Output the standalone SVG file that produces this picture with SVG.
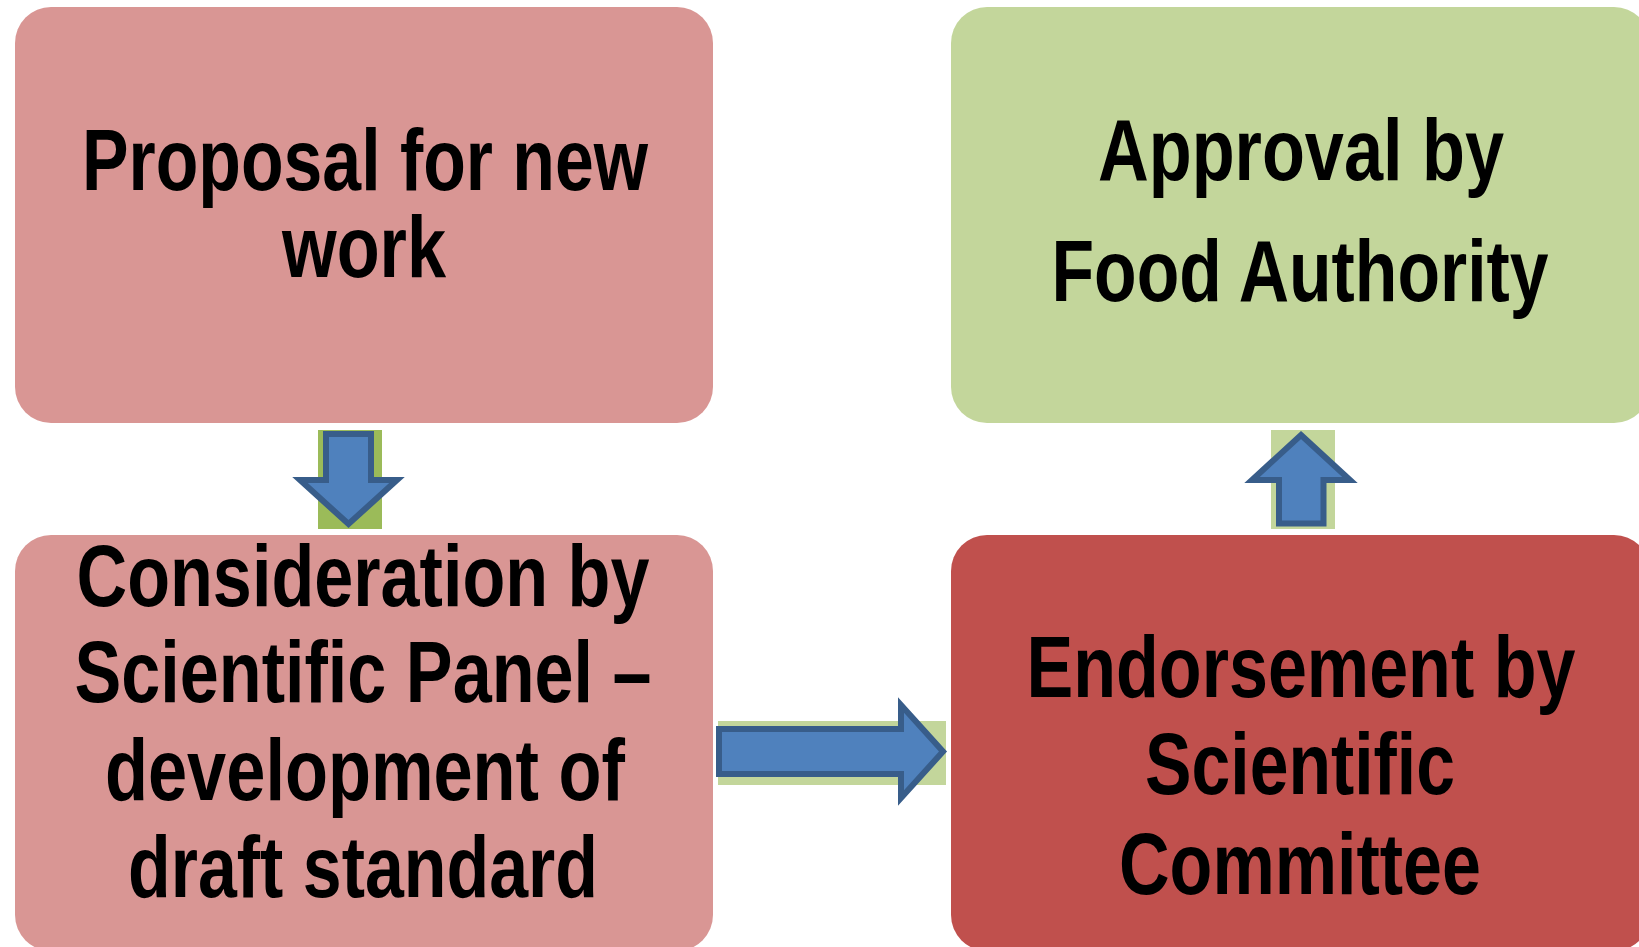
<svg xmlns="http://www.w3.org/2000/svg" width="1639" height="947" viewBox="0 0 1639 947">
<style>
.lbl{font-family:"Liberation Sans Narrow","Arial Narrow","Liberation Sans",sans-serif;font-weight:bold;font-size:88px;fill:#000;text-anchor:middle}
.arrow{fill:#4F81BD;stroke:#385D8A;stroke-width:6;stroke-linejoin:miter}
</style>
<rect width="1639" height="947" fill="#FFFFFF"/>
<g id="node-proposal">
<rect x="15" y="7" width="698" height="416" rx="36" fill="#D99694"/>
<text class="lbl" lengthAdjust="spacingAndGlyphs"><tspan x="365" y="190" textLength="566" lengthAdjust="spacingAndGlyphs">Proposal for new</tspan><tspan x="364" y="277" textLength="164" lengthAdjust="spacingAndGlyphs">work</tspan></text>
</g>
<g id="node-approval">
<rect x="951" y="7" width="699" height="416" rx="36" fill="#C3D69B"/>
<text class="lbl"><tspan x="1301" y="180" textLength="406" lengthAdjust="spacingAndGlyphs">Approval by</tspan><tspan x="1300" y="301" textLength="497" lengthAdjust="spacingAndGlyphs">Food Authority</tspan></text>
</g>
<g id="node-consideration">
<rect x="15" y="535" width="698" height="416" rx="36" fill="#D99694"/>
<text class="lbl"><tspan x="363" y="606" textLength="573" lengthAdjust="spacingAndGlyphs">Consideration by</tspan><tspan x="363" y="702" textLength="577" lengthAdjust="spacingAndGlyphs">Scientific Panel –</tspan><tspan x="365" y="800" textLength="520" lengthAdjust="spacingAndGlyphs">development of</tspan><tspan x="363" y="897" textLength="470" lengthAdjust="spacingAndGlyphs">draft standard</tspan></text>
</g>
<g id="node-endorsement">
<rect x="951" y="535" width="699" height="416" rx="36" fill="#C0504D"/>
<text class="lbl"><tspan x="1301" y="697" textLength="549" lengthAdjust="spacingAndGlyphs">Endorsement by</tspan><tspan x="1300" y="794" textLength="310" lengthAdjust="spacingAndGlyphs">Scientific</tspan><tspan x="1300" y="894" textLength="362" lengthAdjust="spacingAndGlyphs">Committee</tspan></text>
</g>
<g id="connectors">
<rect x="318" y="430" width="64" height="99" fill="#9BBB59"/>
<path class="arrow" d="M326,434 L371,434 L371,480 L397,480 L348.5,524 L300,480 L326,480 Z"/>
<rect x="1271" y="430" width="64" height="99" fill="#C3D69B"/>
<path class="arrow" d="M1301,435 L1350,480 L1323.5,480 L1323.5,523.5 L1279,523.5 L1279,480 L1252,480 Z"/>
<rect x="718" y="721" width="228" height="64" fill="#C3D69B"/>
<path class="arrow" d="M719,729 L901,729 L901,705 L943,751.5 L901,798 L901,774 L719,774 Z"/>
</g>
</svg>
